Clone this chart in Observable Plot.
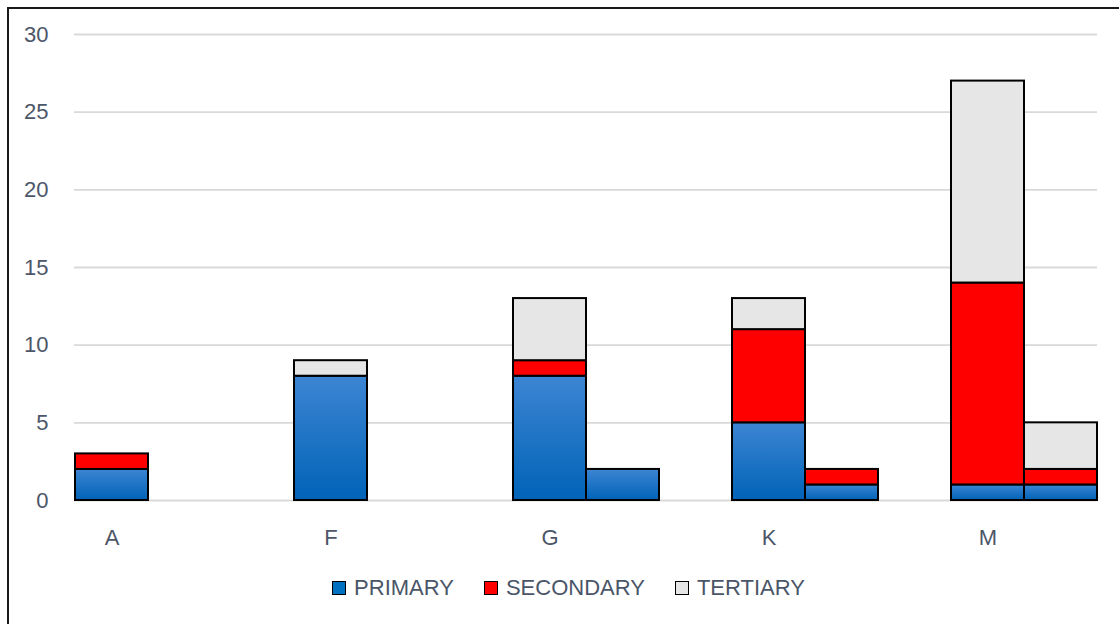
<!DOCTYPE html>
<html><head><meta charset="utf-8">
<script src="https://cdn.jsdelivr.net/npm/d3@7"></script>
<script src="https://cdn.jsdelivr.net/npm/@observablehq/plot@0.6"></script>
<style>
body{margin:0;background:#fff;overflow:hidden;width:1119px;height:624px;position:relative;font-family:"Liberation Sans",Arial,sans-serif;}
#frame{position:absolute;left:7px;top:7px;width:1200px;height:700px;border-left:2px solid #1a1a1a;border-top:2px solid #1a1a1a;pointer-events:none;}
#chart svg{display:block;}
#legend{display:flex;justify-content:center;align-items:center;height:56px;padding-left:18px;font-size:22px;color:#4a5568;}
.item{display:flex;align-items:center;margin:0 15px;}
.sw{width:12px;height:12px;border:1.5px solid #000;margin-right:8px;}
</style></head>
<body>
<div id="chart"></div>
<div id="legend"></div>
<div id="frame"></div>
<script>
const categories = ["A", "F", "G", "K", "M"];
const seriesNames = ["PRIMARY", "SECONDARY", "TERTIARY"];
// left bar of each category
const primaryLeft   = [2, 8, 8, 5, 1];
const secondaryLeft = [1, 0, 1, 6, 13];
const tertiaryLeft  = [0, 1, 4, 2, 13];
// right bar of each category
const primaryRight   = [0, 0, 2, 1, 1];
const secondaryRight = [0, 0, 0, 1, 1];
const tertiaryRight  = [0, 0, 0, 0, 3];
const yTicks = [0, 5, 10, 15, 20, 25, 30];
const seriesColors = ["url(#gradPrimary)", "#FF0000", "#E7E6E6"];
const legendColors = ["#0070C0", "#FF0000", "#E7E6E6"];

const slots = [];
categories.forEach((c, i) => {
  slots.push(c + "|L", c + "|R");
  if (i < categories.length - 1) slots.push(c + "|gap");
});
const leftVals = [primaryLeft, secondaryLeft, tertiaryLeft];
const rightVals = [primaryRight, secondaryRight, tertiaryRight];
const rows = [];
categories.forEach((c, i) => {
  seriesNames.forEach((s, j) => {
    if (leftVals[j][i] > 0) rows.push({slot: c + "|L", series: s, value: leftVals[j][i]});
    if (rightVals[j][i] > 0) rows.push({slot: c + "|R", series: s, value: rightVals[j][i]});
  });
});

const chart = Plot.plot({
  width: 1119,
  height: 560,
  marginLeft: 74,
  marginRight: 22,
  marginTop: 34,
  marginBottom: 60,
  style: {fontFamily: "'Liberation Sans', Arial, sans-serif", fontSize: "22px", color: "#4d5668", background: "transparent"},
  x: {type: "band", domain: slots, padding: 0, axis: null},
  y: {domain: [0, 30], axis: null},
  color: {type: "ordinal", domain: seriesNames, range: seriesColors},
  marks: [
    Plot.gridY(yTicks, {stroke: "#d9d9d9", strokeOpacity: 1, strokeWidth: 1.8}),
    Plot.axisY({ticks: yTicks, tickSize: 0, tickPadding: 26, label: null}),
    Plot.axisX({ticks: slots.filter(s => s.endsWith("|L")), tickFormat: s => s.split("|")[0], tickSize: 0, tickPadding: 29, label: null}),
    Plot.barY(rows, {x: "slot", y: "value", fill: "series", order: seriesNames, stroke: "#000", strokeWidth: 2, insetLeft: 0, insetRight: 0})
  ]
});

const defs = d3.select(chart).insert("defs", ":first-child");
const g = defs.append("linearGradient").attr("id", "gradPrimary").attr("x1", 0).attr("y1", 0).attr("x2", 0).attr("y2", 1);
g.append("stop").attr("offset", "0%").attr("stop-color", "#3d85d3");
g.append("stop").attr("offset", "100%").attr("stop-color", "#0063b7");

document.getElementById("chart").appendChild(chart);

const legend = document.getElementById("legend");
seriesNames.forEach((s, i) => {
  const item = document.createElement("div");
  item.className = "item";
  const sw = document.createElement("span");
  sw.className = "sw";
  sw.style.background = legendColors[i];
  const t = document.createElement("span");
  t.textContent = s;
  item.appendChild(sw);
  item.appendChild(t);
  legend.appendChild(item);
});
</script>
</body></html>
